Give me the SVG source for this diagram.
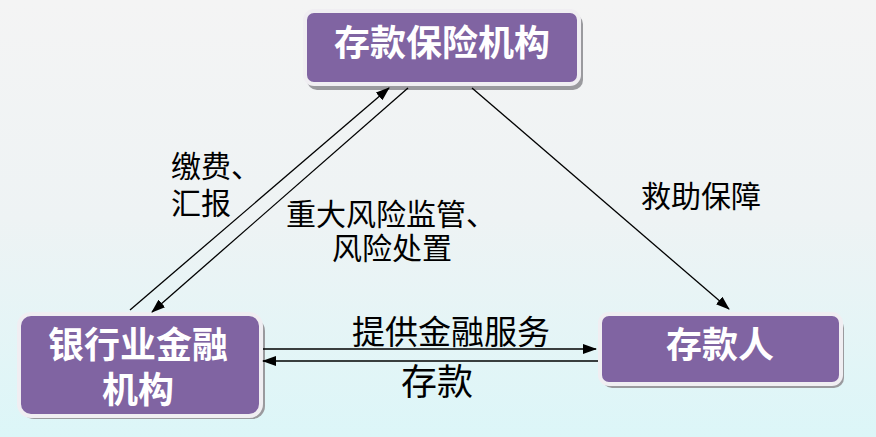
<svg xmlns="http://www.w3.org/2000/svg" width="876" height="437" viewBox="0 0 876 437">
<defs>
<linearGradient id="bg" x1="0" y1="0" x2="0" y2="1">
<stop offset="0" stop-color="#f4f4f4"/>
<stop offset="0.5" stop-color="#eef3f4"/>
<stop offset="1" stop-color="#dcf6f8"/>
</linearGradient>
<marker id="ah" markerUnits="userSpaceOnUse" markerWidth="14" markerHeight="10" refX="13" refY="5" orient="auto">
<path d="M0,0 L14,5 L0,10 Z" fill="#000"/>
</marker>
<style>
.box{fill:#8064a2;stroke:#f0eef2;stroke-width:4}
.shadow{fill:#9a9a9e}
.bt{font-family:"Noto Sans CJK SC","Noto Sans CJK JP",sans-serif;font-weight:bold;font-size:36px;fill:#fff;text-anchor:middle}
.lb{font-family:"Noto Sans CJK SC","Noto Sans CJK JP",sans-serif;font-size:30px;fill:#000}
.ln{stroke:#000;stroke-width:1.3;fill:none}
</style>
</defs>
<rect width="876" height="437" fill="url(#bg)"/>
<g id="node-top">
<rect class="shadow" x="307" y="14" width="276" height="76" rx="10"/>
<rect class="box" x="305" y="11" width="274" height="73" rx="9"/>
<text class="bt" x="442" y="56">存款保险机构</text>
</g>
<g id="node-bank">
<rect class="shadow" x="21" y="318" width="244" height="101" rx="13"/>
<rect class="box" x="19" y="314" width="242" height="102" rx="12"/>
<text class="bt" x="138" y="358">银行业金融</text>
<text class="bt" x="138" y="403">机构</text>
</g>
<g id="node-depositor">
<rect class="shadow" x="602" y="318" width="242" height="70" rx="10"/>
<rect class="box" x="600" y="314" width="241" height="70" rx="9"/>
<text class="bt" x="720" y="358">存款人</text>
</g>
<g id="connectors">
<line class="ln" x1="130" y1="310" x2="389" y2="88" marker-end="url(#ah)"/>
<line class="ln" x1="408" y1="88" x2="152" y2="312" marker-end="url(#ah)"/>
<line class="ln" x1="472" y1="88" x2="729" y2="309" marker-end="url(#ah)"/>
<line class="ln" x1="263" y1="349" x2="596" y2="349" marker-end="url(#ah)"/>
<line class="ln" x1="598" y1="361" x2="263" y2="361" marker-end="url(#ah)"/>
</g>
<g id="labels">
<text class="lb" x="171" y="177">缴费、</text>
<text class="lb" x="171" y="214">汇报</text>
<text class="lb" x="286" y="225">重大风险监管、</text>
<text class="lb" x="332" y="259">风险处置</text>
<text class="lb" x="641" y="207">救助保障</text>
<text class="lb" x="352" y="344" style="font-size:33px">提供金融服务</text>
<text class="lb" x="401" y="395" style="font-size:36px">存款</text>
</g>
</svg>
